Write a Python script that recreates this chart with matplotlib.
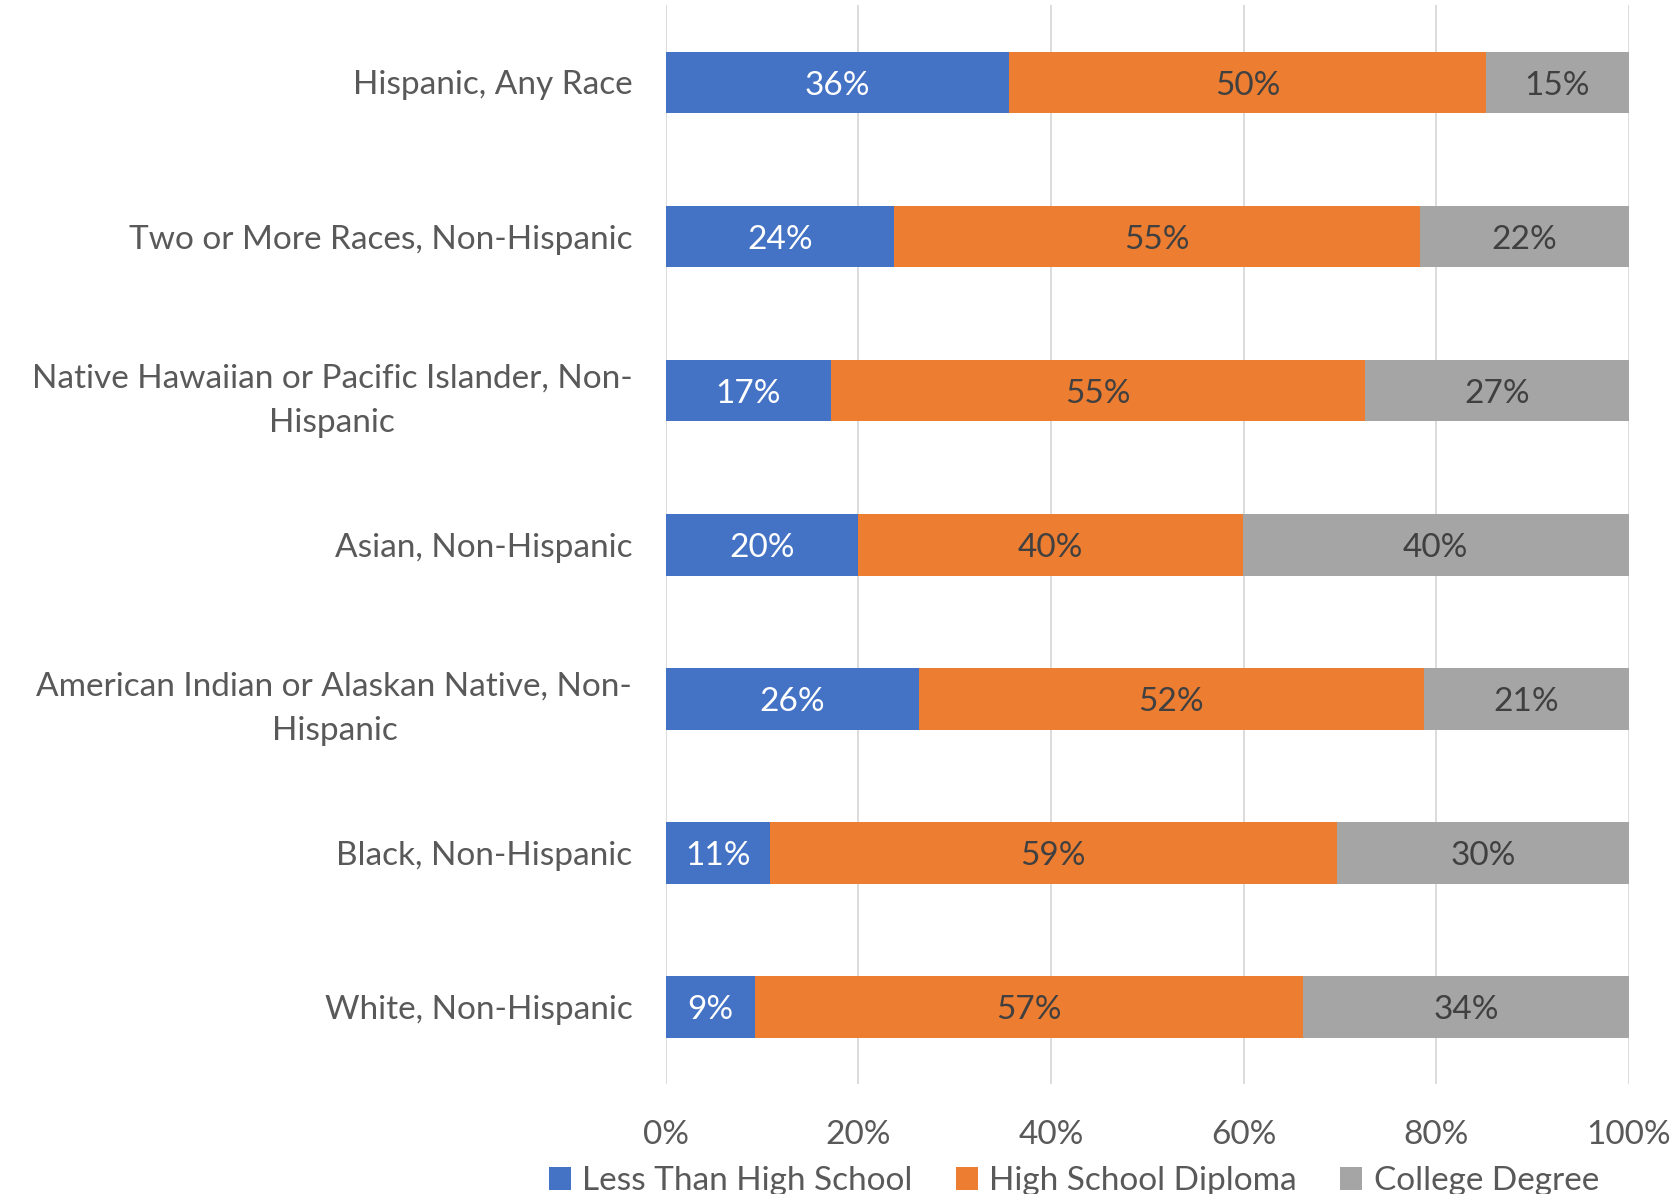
import numpy as np
import matplotlib.pyplot as plt

# Data (share of each group, in %)
groups = [
    "Hispanic, Any Race",
    "Two or More Races, Non-Hispanic",
    "Native Hawaiian or Pacific Islander, Non-\nHispanic",
    "Asian, Non-Hispanic",
    "American Indian or Alaskan Native, Non-\nHispanic",
    "Black, Non-Hispanic",
    "White, Non-Hispanic",
]
less_than_hs = [35.6, 23.7, 17.2, 20.0, 26.3, 10.8, 9.3]
hs_diploma = [49.6, 54.6, 55.4, 39.9, 52.4, 58.9, 56.9]
college = [14.8, 21.7, 27.4, 40.1, 21.3, 30.3, 33.8]

series_names = ["Less Than High School", "High School Diploma", "College Degree"]
colors = ["#4472C4", "#ED7D31", "#A5A5A5"]
label_colors = ["white", "#404040", "#404040"]

plt.rcParams["font.family"] = ["Lato", "DejaVu Sans"]
fs = 24

fig = plt.figure(figsize=(16.78, 11.94), dpi=100)
ax = fig.add_axes([0.3967, 0.092, 0.574, 0.9035])

y = np.arange(len(groups))[::-1]
left = np.zeros(len(groups))
for vals, name, c, lc in zip([less_than_hs, hs_diploma, college], series_names, colors, label_colors):
    vals = np.array(vals)
    ax.barh(y, vals, left=left, height=0.4, color=c, label=name, zorder=3)
    for yi, l, v in zip(y, left, vals):
        ax.text(l + v / 2, yi - 0.02, f"{round(v):.0f}%", ha="center", va="center",
                color=lc, fontsize=fs, zorder=4)
    left += vals

ax.set_xlim(0, 100)
ax.set_ylim(-0.5, len(groups) - 0.5)
ax.set_xticks(range(0, 101, 20))
ax.set_xticklabels([f"{t}%" for t in range(0, 101, 20)])
ax.set_yticks(y)
ax.set_yticklabels(groups, multialignment="center", linespacing=1.6)
ax.tick_params(axis="both", length=0, colors="#595959", labelsize=fs)
ax.tick_params(axis="x", pad=26)
ax.tick_params(axis="y", pad=24)
ax.grid(axis="x", color="#D9D9D9", linewidth=1.3, zorder=0)
for s in ax.spines.values():
    s.set_visible(False)

fig.legend(loc="lower center", bbox_to_anchor=(0.64, -0.027), ncol=3, frameon=False,
           fontsize=fs, labelcolor="#595959", handlelength=0.65, handleheight=0.65,
           handletextpad=0.35, columnspacing=1.3)

plt.savefig("out.png")
